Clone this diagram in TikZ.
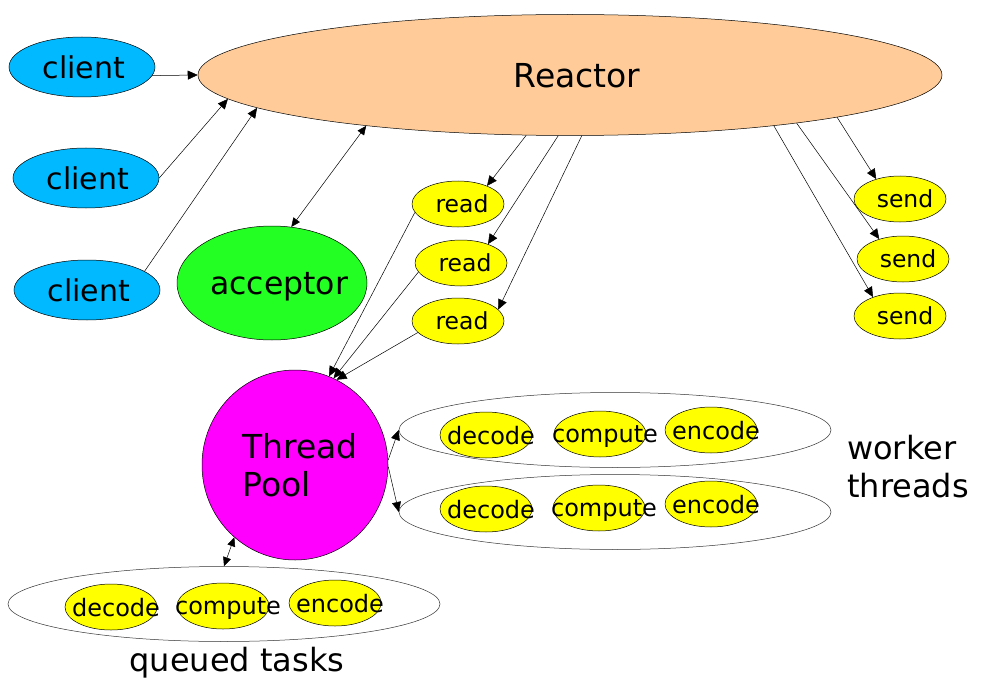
\documentclass[tikz,border=0pt]{standalone}
\usepackage{fontspec}
\setmainfont{DejaVu Sans}
\usetikzlibrary{arrows.meta,shapes.geometric}

\definecolor{reactorfill}{RGB}{255,204,153}
\definecolor{clientfill}{RGB}{0,185,255}
\definecolor{acceptfill}{RGB}{35,255,35}
\definecolor{poolfill}{RGB}{255,0,255}
\definecolor{taskfill}{RGB}{255,255,0}

% text set in a box of no width, pushed right by the optional amount
\newcommand{\tasktext}[2][10pt]{\makebox[0pt]{\kern#1 #2}}
\newcommand{\nudged}[2]{\hspace*{#1}#2}

\begin{document}
\begin{tikzpicture}[x=1pt, y=-1pt,
        oval/.style={ellipse, draw, line width=0.5pt, inner sep=0pt, text depth=0pt},
        clientoval/.style={oval, fill=clientfill, minimum width=146pt,
            minimum height=60pt, font=\fontsize{30}{36}\selectfont},
        iooval/.style={oval, fill=taskfill, minimum width=92pt,
            minimum height=46pt, font=\fontsize{23.5}{28}\selectfont},
        taskoval/.style={iooval, font=\fontsize{24}{28}\selectfont},
        group/.style={ellipse, draw=black!80, line width=0.5pt,
            minimum width=432pt, minimum height=75pt},
        bigtext/.style={font=\fontsize{32}{38}\selectfont, inner sep=0pt},
        link/.style={line width=0.5pt, -{Triangle[length=10pt,width=9pt]}},
        bilink/.style={line width=0.5pt,
            {Triangle[length=9pt,width=8pt]}-{Triangle[length=9pt,width=8pt]}}]
    \useasboundingbox (0,0) rectangle (992,695);

    % reactor and its clients
    \node[oval, fill=reactorfill, minimum width=744pt, minimum height=121pt,
        font=\fontsize{33}{38}\selectfont] (reactor) at (570,75)
        {\tasktext[14pt]{Reactor}};
    \node[clientoval] (client1) at (82,67) {\tasktext[4pt]{client}};
    \node[clientoval] (client2) at (86,178) {\tasktext[4pt]{client}};
    \node[clientoval] (client3) at (87,290) {\tasktext[4pt]{client}};
    \node[oval, fill=acceptfill, minimum width=190pt, minimum height=114pt,
        font=\fontsize{31.5}{36}\selectfont] (acceptor) at (272,283)
        {\tasktext[14pt]{acceptor}};

    % read and send handlers
    \node[iooval] (read1) at (458,204) {\tasktext[8pt]{read}};
    \node[iooval] (read2) at (461,263) {\tasktext[8pt]{read}};
    \node[iooval] (read3) at (458,321) {\tasktext[8pt]{read}};
    \node[iooval] (send1) at (900,199) {\tasktext{send}};
    \node[iooval] (send2) at (903,259) {\tasktext{send}};
    \node[iooval] (send3) at (900,316) {\tasktext{send}};

    % thread pool
    \node[oval, fill=poolfill, minimum width=186pt, minimum height=190pt,
        align=left, font=\fontsize{33}{38}\selectfont] (pool) at (295,465)
        {\nudged{10pt}{Thread}\\\nudged{10pt}{Pool}};

    % worker threads
    \node[group] (worker1) at (615,430) {};
    \node[group] (worker2) at (615,512) {};
    \node[taskoval] (decode1) at (486,435) {\tasktext{decode}};
    \node[taskoval] (compute1) at (600,434) {\tasktext{compute}};
    \node[taskoval] (encode1) at (711,430) {\tasktext{encode}};
    \node[taskoval] (decode2) at (486,509) {\tasktext{decode}};
    \node[taskoval] (compute2) at (599,508) {\tasktext{compute}};
    \node[taskoval] (encode2) at (711,504) {\tasktext{encode}};
    \node[bigtext, align=left, anchor=west] (workerlabel) at (847,467)
        {worker\\threads};

    % queued tasks
    \node[group] (queue) at (224,604) {};
    \node[taskoval] (decode3) at (111,607) {\tasktext{decode}};
    \node[taskoval] (compute3) at (223,606) {\tasktext{compute}};
    \node[taskoval] (encode3) at (335,603) {\tasktext{encode}};
    \node[bigtext, anchor=base] (queuelabel) at (237,671) {queued tasks};

    % connectors
    \draw[link] (client1.-7) -- (reactor.west);
    \draw[link] (client2.east) -- (reactor.184.2);
    \draw[link] (client3.18.4) -- (reactor.186.8);
    \draw[bilink] (acceptor.71.3) -- (reactor.194.4);
    \draw[link] (reactor.234.6) -- (read1.32);
    \draw[link] (reactor.259.6) -- (read2.35);
    \draw[link] (reactor.281.3) -- (read3.16);
    \draw[link] (reactor.-9.2) -- (send1.140);
    \draw[link] (reactor.-12.4) -- (send2.140);
    \draw[link] (reactor.-14.2) -- (send3.145);
    \draw[link] (read1.191.6) -- (pool.69.2);
    \draw[link] (read2.192.8) -- (pool.66.7);
    \draw[link] (read3.196) -- (pool.64.2);
    \draw[link] (pool.3) -- (worker1.west);
    \draw[link] (pool.-1) -- (worker2.west);
    \draw[bilink] (queue.north) -- (pool.230.6);
\end{tikzpicture}
\end{document}
